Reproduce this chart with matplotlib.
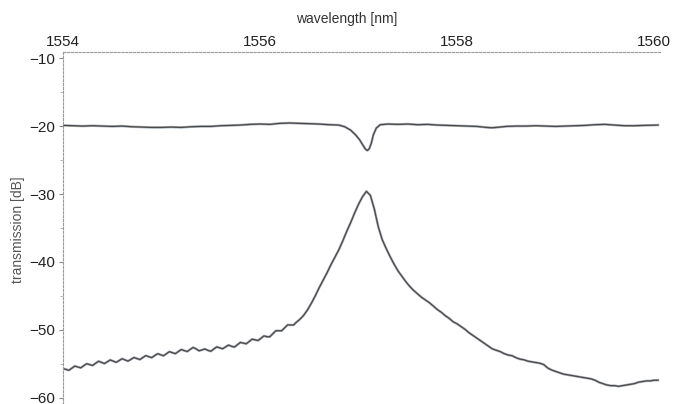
import numpy as np
import matplotlib.pyplot as plt

# drop-port trace: fine sampling over the rippled shoulder, coarser beyond it [nm]
wl_drop = np.concatenate([np.linspace(1554.0, 1556.37, 80),
                          np.linspace(1556.40, 1560.04, 92)])

# drop-port transmission [dB]
db_drop = [
    # 1554.00 - 1556.37
    -55.68, -55.81, -55.94, -55.63, -55.32, -55.45, -55.58, -55.28, -54.97, -55.10,
    -55.23, -54.92, -54.61, -54.77, -54.95, -54.68, -54.42, -54.59, -54.77, -54.51,
    -54.24, -54.42, -54.59, -54.33, -54.06, -54.21, -54.36, -54.07, -53.78, -53.93,
    -54.08, -53.79, -53.50, -53.65, -53.80, -53.50, -53.20, -53.34, -53.49, -53.19,
    -52.89, -53.03, -53.18, -52.88, -52.58, -52.78, -53.07, -52.95, -52.80, -53.00,
    -53.14, -52.82, -52.50, -52.63, -52.77, -52.50, -52.23, -52.40, -52.52, -52.18,
    -51.84, -51.94, -52.04, -51.70, -51.36, -51.46, -51.56, -51.22, -50.88, -51.00,
    -51.00, -50.56, -50.12, -50.12, -50.12, -49.69, -49.26, -49.27, -49.28, -48.85,
    # 1556.40 - 1560.04
    -48.5, -47.9, -47.1, -46.1, -45.0, -43.8, -42.7, -41.6, -40.4, -39.3,
    -38.2, -36.9, -35.5, -34.2, -32.8, -31.5, -30.4, -29.6, -30.2, -32.2,
    -34.8, -36.7, -38.0, -39.2, -40.3, -41.3, -42.1, -42.9, -43.6, -44.2,
    -44.7, -45.2, -45.6, -46.0, -46.5, -47.0, -47.4, -47.9, -48.3, -48.8,
    -49.1, -49.5, -49.9, -50.4, -50.8, -51.2, -51.6, -52.0, -52.4, -52.8,
    -53.0, -53.2, -53.5, -53.7, -53.8, -54.1, -54.3, -54.4, -54.6, -54.7,
    -54.8, -54.9, -55.1, -55.6, -55.9, -56.1, -56.3, -56.5, -56.6, -56.7,
    -56.8, -56.9, -57.0, -57.1, -57.2, -57.4, -57.7, -57.9, -58.1, -58.2,
    -58.2, -58.3, -58.2, -58.1, -58.0, -57.9, -57.7, -57.6, -57.5, -57.5,
    -57.4, -57.4,
]

# through-port trace
wl_thru = [
    1554.0, 1554.1, 1554.2, 1554.3, 1554.4, 1554.5, 1554.6, 1554.7, 1554.8, 1554.9,
    1555.0, 1555.1, 1555.2, 1555.3, 1555.4, 1555.5, 1555.6, 1555.7, 1555.8, 1555.9,
    1556.0, 1556.1, 1556.2, 1556.3, 1556.4, 1556.5, 1556.6, 1556.7, 1556.8, 1556.86,
    1556.92, 1556.97, 1557.01, 1557.04, 1557.07, 1557.09, 1557.11, 1557.13, 1557.15, 1557.18,
    1557.22, 1557.3, 1557.4, 1557.5, 1557.6, 1557.7, 1557.8, 1557.9, 1558.0, 1558.1,
    1558.2, 1558.3, 1558.35, 1558.4, 1558.5, 1558.6, 1558.7, 1558.8, 1558.9, 1559.0,
    1559.1, 1559.2, 1559.3, 1559.4, 1559.5, 1559.6, 1559.7, 1559.8, 1559.9, 1560.04,
]
db_thru = [
    -19.9, -19.95, -20.0, -19.95, -20.0, -20.05, -20.0, -20.1, -20.15, -20.2,
    -20.2, -20.15, -20.2, -20.1, -20.05, -20.05, -19.95, -19.9, -19.85, -19.75,
    -19.7, -19.75, -19.6, -19.55, -19.6, -19.65, -19.7, -19.8, -19.85, -20.1,
    -20.6, -21.3, -22.0, -22.7, -23.4, -23.6, -23.3, -22.5, -21.3, -20.3,
    -19.8, -19.7, -19.75, -19.7, -19.8, -19.75, -19.85, -19.9, -19.95, -20.0,
    -20.05, -20.2, -20.25, -20.2, -20.05, -20.0, -20.0, -19.95, -20.0, -20.05,
    -20.0, -19.95, -19.9, -19.8, -19.75, -19.85, -19.95, -19.95, -19.9, -19.85,
]

x_ticks = [1554, 1556, 1558, 1560]
y_ticks = [-10, -20, -30, -40, -50, -60]

plt.rcParams['font.family'] = ['Liberation Sans', 'DejaVu Sans']

fig = plt.figure(figsize=(6.81, 4.04), dpi=100)
ax = fig.add_axes([63 / 681, 0.0, 597 / 681, 352 / 404])

for wl, db in [(wl_thru, db_thru), (wl_drop, db_drop)]:
    ax.plot(wl, db, color='#4f7cc4', lw=1.8, alpha=0.5)
    ax.plot(wl, db, color='#c99a55', lw=1.3, alpha=0.45)
    ax.plot(wl, db, color='#4b4846', lw=0.9)

ax.set_xlim(1554.0, 1560.06)
ax.set_ylim(-60.9, -9.1)
ax.set_xticks(x_ticks)
ax.set_yticks(y_ticks)
ax.set_yticks([-15, -25, -35, -45, -55], minor=True)

ax.xaxis.tick_top()
ax.xaxis.set_label_position('top')
ax.set_xlabel('wavelength [nm]', fontsize=10, color='#333333')
ax.xaxis.set_label_coords(0.476, 1.082)
ax.set_ylabel('transmission [dB]', fontsize=10, color='#555555')
ax.yaxis.set_label_coords(-0.064, 0.494)

ax.tick_params(axis='x', length=0, pad=2, labelsize=11, labelcolor='#222222')
ax.tick_params(axis='y', which='major', length=3, pad=3, labelsize=11,
               labelcolor='#222222', color='#888888')
ax.tick_params(axis='y', which='minor', length=2, color='#aaaaaa')

for side in ['bottom', 'right']:
    ax.spines[side].set_visible(False)
for side in ['top', 'left']:
    ax.spines[side].set_color('#9a9a9a')
    ax.spines[side].set_linewidth(0.8)
    ax.spines[side].set_linestyle((0, (2, 1.5)))

fig.savefig('out.png', dpi=100)
